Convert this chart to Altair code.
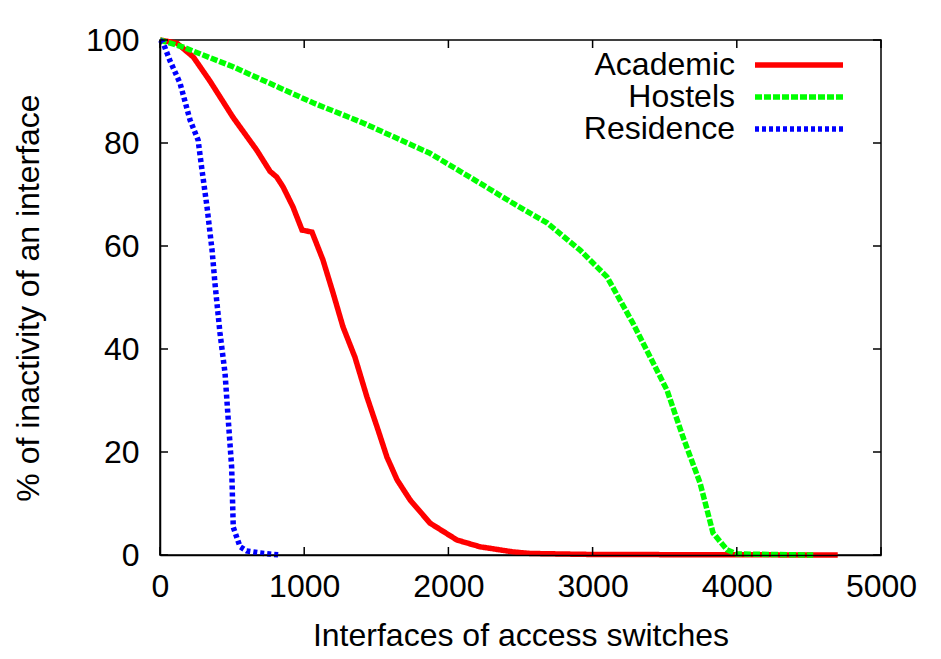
import altair as alt
import pandas as pd

# ---- data ----
acad_x = [0, 116, 231, 347, 506, 671, 763, 809, 853, 922, 985, 1054, 1130, 1200, 1269,
          1352, 1435, 1512, 1574, 1644, 1734, 1872, 2060, 2219, 2448, 2566, 3000, 4700]
acad_y = [100, 99.4, 96.7, 92, 85, 78.6, 74.5, 73.4, 71.5, 67.6, 63.1, 62.7, 57.3, 50.9, 44.3,
          38.4, 30.7, 24.3, 19, 14.6, 10.7, 6.2, 2.9, 1.6, 0.6, 0.3, 0.1, 0]

host_x = [0, 162, 506, 832, 1061, 1408, 1872, 2219, 2448, 2684, 2913, 3100, 3280, 3516,
          3627, 3745, 3835, 3932, 4000, 4530]
host_y = [100, 98.6, 94.8, 90.7, 87.8, 83.9, 78, 72.2, 68.3, 64.5, 59.2, 54, 45, 32,
          22.9, 14, 4.3, 1, 0.2, 0]

resi_x = [0, 21, 69, 139, 208, 264, 291, 326, 361, 381, 416, 451, 472, 497, 508, 555,
          600, 693, 760, 832]
resi_y = [100, 99.5, 96, 91.6, 84.5, 80.6, 74.8, 67.6, 59.2, 52.8, 43.1, 35.3, 26.8, 17,
          5.4, 1.6, 0.8, 0.4, 0.2, 0]

names = ["Academic", "Hostels", "Residence"]
colors = ["#ff0000", "#00ff00", "#0000ff"]
dashes = [[1, 0], [7, 2], [4, 3]]

x_ticks = [0, 1000, 2000, 3000, 4000, 5000]
y_ticks = [0, 20, 40, 60, 80, 100]

x_title = "Interfaces of access switches"
y_title = "% of inactivity of an interface"

FONT = "Liberation Sans"
W, H = 721, 515

xscale = alt.Scale(domain=[0, 5000], nice=False, zero=False)
yscale = alt.Scale(domain=[0, 100], nice=False)

x_axis = alt.Axis(values=x_ticks, format="d", title=x_title, labelPadding=16, titleY=90,
                  titleBaseline="alphabetic", zindex=1)
y_axis = alt.Axis(values=y_ticks, format="d", title=y_title, labelPadding=21, titleX=-122,
                  titleY=H / 2, titleAngle=270, titleBaseline="alphabetic", zindex=1)

series = [(acad_x, acad_y), (host_x, host_y), (resi_x, resi_y)]

layers = []
for i, (xs, ys) in enumerate(series):
    df = pd.DataFrame({"x": xs, "y": ys})
    layers.append(
        alt.Chart(df).mark_line(color=colors[i], strokeDash=dashes[i], strokeWidth=5.5,
                                clip=False).encode(
            x=alt.X("x:Q", scale=xscale, axis=x_axis),
            y=alt.Y("y:Q", scale=yscale, axis=y_axis),
            order=alt.Order("x:Q"),
        )
    )

# inward ticks on all four sides (gnuplot style)
xt = pd.DataFrame({"x": x_ticks})
yt = pd.DataFrame({"y": y_ticks})
tick_style = dict(color="black", strokeWidth=1.5)
layers.append(alt.Chart(xt).mark_rule(**tick_style).encode(
    x=alt.X("x:Q", scale=xscale, axis=x_axis), y=alt.value(H), y2=alt.value(H - 8)))
layers.append(alt.Chart(xt).mark_rule(**tick_style).encode(
    x=alt.X("x:Q", scale=xscale, axis=x_axis), y=alt.value(0), y2=alt.value(8)))
layers.append(alt.Chart(yt).mark_rule(**tick_style).encode(
    y=alt.Y("y:Q", scale=yscale, axis=y_axis), x=alt.value(0), x2=alt.value(8)))
layers.append(alt.Chart(yt).mark_rule(**tick_style).encode(
    y=alt.Y("y:Q", scale=yscale, axis=y_axis), x=alt.value(W), x2=alt.value(W - 8)))

# legend (labels left of line samples, as in gnuplot)
for i, name in enumerate(names):
    ld = pd.DataFrame({"name": [name]})
    yy = 25 + 32 * i
    layers.append(alt.Chart(ld).mark_text(align="right", baseline="middle", fontSize=32,
                                          font=FONT, color="black").encode(
        x=alt.value(575), y=alt.value(yy), text="name:N"))
    layers.append(alt.Chart(ld).mark_rule(color=colors[i], strokeDash=dashes[i],
                                          strokeWidth=5.5).encode(
        x=alt.value(595), x2=alt.value(683), y=alt.value(yy)))

chart = alt.layer(*layers).properties(
    width=W, height=H,
    autosize=alt.AutoSizeParams(type="none"),
    padding={"left": 152, "top": 32, "right": 50, "bottom": 96},
).configure_view(
    stroke="black", strokeWidth=1.5
).configure_axis(
    labelFont=FONT, labelFontSize=32, labelColor="black",
    titleFont=FONT, titleFontSize=32, titleFontWeight="normal", titleColor="black",
    ticks=False, tickSize=0, grid=False, domainColor="black", domainWidth=1.5,
    labelFlush=False, labelOverlap=False,
)

chart.save("out.html", embed_options={"renderer": "svg", "actions": False})
